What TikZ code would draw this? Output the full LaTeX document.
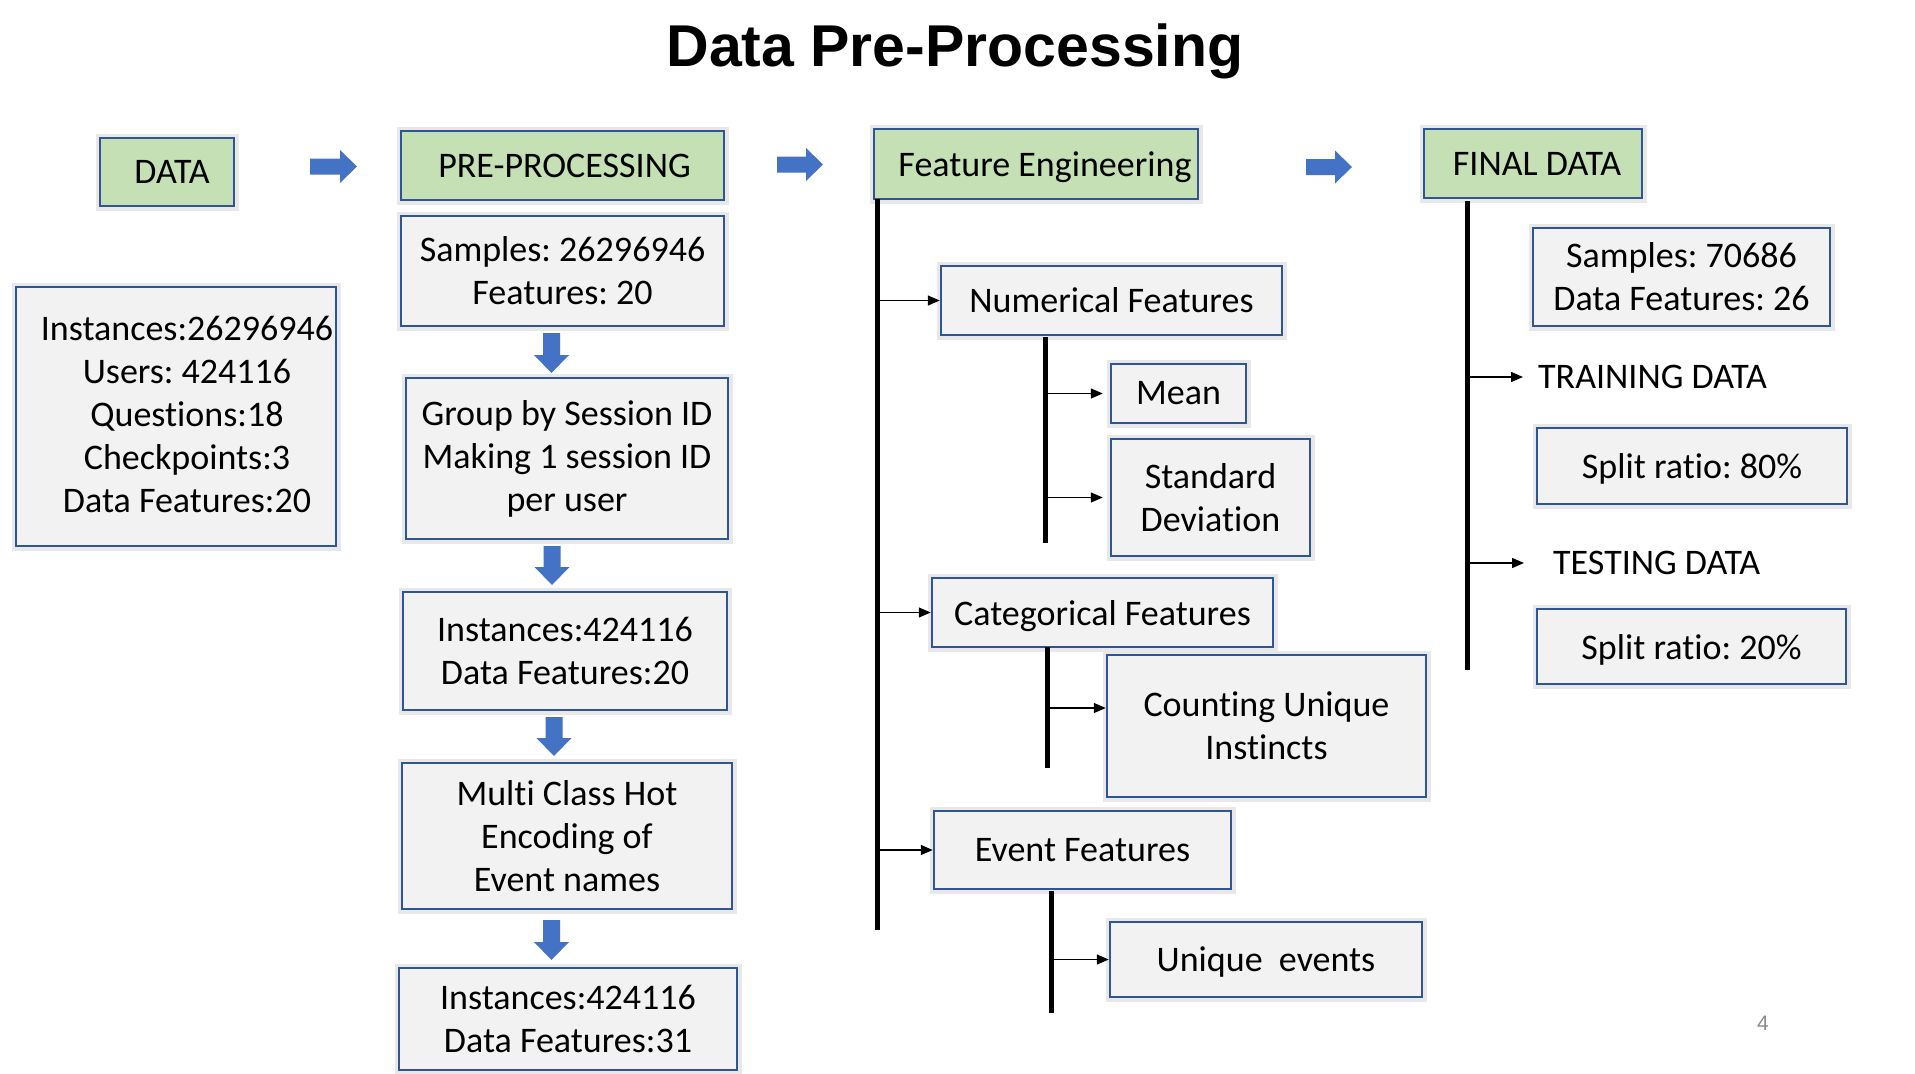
\documentclass[tikz,border=0pt]{standalone}
\usepackage{fontspec}
\setmainfont{Carlito}[Ligatures={NoCommon,NoContextual}]
\newfontfamily\titlefont{Liberation Sans}
\frenchspacing
\usetikzlibrary{arrows.meta}
\definecolor{boxblue}{HTML}{2F5597}
\definecolor{boxgreen}{HTML}{C5E0B4}
\definecolor{boxgray}{HTML}{F2F2F2}
\definecolor{arrowblue}{HTML}{4472C4}
\newcommand\blockright[3]{%
  \fill[arrowblue] (#1,#3-8) -- (#2-17,#3-8) -- (#2-17,#3-16.5) -- (#2,#3) -- (#2-17,#3+16.5) -- (#2-17,#3+8) -- (#1,#3+8) -- cycle;}
\newcommand\blockdown[3]{%
  \fill[arrowblue] (#1-8.5,#2) -- (#1+8.5,#2) -- (#1+8.5,#3-18) -- (#1+17.5,#3-18) -- (#1,#3) -- (#1-17.5,#3-18) -- (#1-8.5,#3-18) -- cycle;}
\begin{document}
\begin{tikzpicture}[x=1pt,y=-1pt,
  every node/.style={font=\fontsize{36}{43}\selectfont, align=center, inner sep=0pt},
  basebox/.style={draw=boxblue, line width=2.5pt, preaction={draw=black!9, line width=9pt}},
  gbox/.style={basebox, fill=boxgreen},
  wbox/.style={basebox, fill=boxgray},
  flat/.style={text depth=0pt},
  vbar/.style={line width=5pt, black},
  conn/.style={line width=1.4pt, -{Triangle[length=12pt,width=10pt]}}
]
\useasboundingbox[fill=white] (0,0) rectangle (1915,1074);

% title
\node[font=\fontsize{59}{66}\selectfont\titlefont\bfseries, anchor=base] (title) at (955,66) {Data Pre-Processing};

% column 1
\node[gbox, minimum width=134pt, minimum height=68pt] (data) at (167,172) {};
\node (dataT) at (172,172) {DATA};
\node[wbox, minimum width=320pt, minimum height=259pt] (inst) at (176,416.5) {};
\node (instT) at (187,414) {Instances:26296946\\Users: 424116\\Questions:18\\Checkpoints:3\\Data Features:20};

% column 2
\node[gbox, minimum width=323pt, minimum height=69pt] (pre) at (562.5,165.5) {};
\node (preT) at (564.5,165.5) {PRE-PROCESSING};
\node[wbox, minimum width=323pt, minimum height=110pt] (samp) at (562.5,271) {Samples: 26296946\\Features: 20};
\node[wbox, minimum width=322pt, minimum height=161pt] (group) at (567,458.5) {Group by Session ID\\Making 1 session ID\\per user};
\node[wbox, minimum width=324pt, minimum height=118pt] (inst2) at (565,651) {Instances:424116\\Data Features:20};
\node[wbox, minimum width=330pt, minimum height=146pt] (multi) at (567,836) {Multi Class Hot\\Encoding of\\Event names};
\node[wbox, minimum width=338pt, minimum height=102pt] (fin) at (568,1019) {Instances:424116\\Data Features:31};

% column 3
\node[gbox, minimum width=324pt, minimum height=70pt] (fe) at (1036,164) {};
\node[flat] (feT) at (1045,164) {Feature Engineering};
\node[wbox, minimum width=341pt, minimum height=69pt] (num) at (1111.5,300.5) {Numerical Features};
\node[wbox, minimum width=135pt, minimum height=59pt] (mean) at (1178.5,393.5) {Mean};
\node[wbox, minimum width=199pt, minimum height=117pt] (std) at (1210.5,497.5) {Standard\\Deviation};
\node[wbox, flat, minimum width=341pt, minimum height=69pt] (cat) at (1102.5,612.5) {Categorical Features};
\node[wbox, minimum width=319pt, minimum height=142pt] (count) at (1266.5,726) {Counting Unique\\Instincts};
\node[wbox, minimum width=297pt, minimum height=78pt] (event) at (1082.5,850) {Event Features};
\node[wbox, flat, minimum width=312pt, minimum height=75pt] (uniq) at (1266,959.5) {Unique\ \ events};

% column 4
\node[gbox, minimum width=218pt, minimum height=69pt] (final) at (1533,163.5) {};
\node (finalT) at (1537,163.5) {FINAL DATA};
\node[wbox, minimum width=297pt, minimum height=98pt] (samp2) at (1681.5,277) {Samples: 70686\\Data Features: 26};
\node[anchor=west] (train) at (1538,377) {TRAINING DATA};
\node[wbox, flat, minimum width=310pt, minimum height=76pt] (s80) at (1692,466) {Split ratio: 80\%};
\node[anchor=west] (test) at (1553,563) {TESTING DATA};
\node[wbox, flat, minimum width=309pt, minimum height=75pt] (s20) at (1691.5,646.5) {Split ratio: 20\%};

% page number
\node[font=\fontsize{21}{25}\selectfont\titlefont, text=black!45] (pg) at (1763,1023) {4};

% block arrows
\blockright{310}{357}{166.5}
\blockright{777}{823}{164.5}
\blockright{1306}{1352}{167}
\blockdown{551.5}{333}{373}
\blockdown{552}{546}{585}
\blockdown{554}{717}{756}
\blockdown{551.5}{920}{960}

% tree lines
\coordinate (feTop) at (877,199);
\coordinate (feBot) at (877,930);
\draw[vbar] (feTop) -- (feBot);
\coordinate (numTop) at (1045,337);
\coordinate (numBot) at (1045,543);
\draw[vbar] (numTop) -- (numBot);
\coordinate (catTop) at (1047.5,647);
\coordinate (catBot) at (1047.5,768);
\draw[vbar] (catTop) -- (catBot);
\coordinate (evTop) at (1051,891);
\coordinate (evBot) at (1051,1013);
\draw[vbar] (evTop) -- (evBot);
\coordinate (finTop) at (1467,201);
\coordinate (finBot) at (1467,670);
\draw[vbar] (finTop) -- (finBot);

% connectors
\draw[conn] (feTop |- num.west) -- (num.west);
\draw[conn, shorten >=7pt] (numTop |- mean.west) -- (mean.west);
\draw[conn, shorten >=7pt] (numTop |- std.west) -- (std.west);
\draw[conn] (feTop |- cat.west) -- (cat.west);
\coordinate (cntStart) at (1047.5,708);
\draw[conn] (cntStart) -- (cntStart -| count.west);
\draw[conn] (feTop |- event.west) -- (event.west);
\draw[conn] (evTop |- uniq.west) -- (uniq.west);
\draw[conn, shorten >=15pt] (finTop |- train.west) -- (train.west);
\draw[conn, shorten >=29pt] (finTop |- test.west) -- (test.west);
\end{tikzpicture}
\end{document}
